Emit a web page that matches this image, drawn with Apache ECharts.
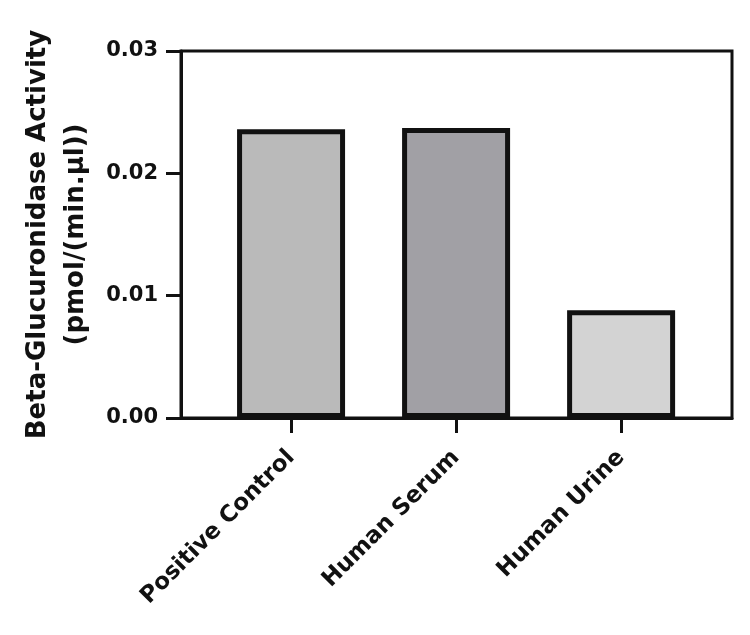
<!DOCTYPE html>
<html>
<head>
<meta charset="utf-8">
<script src="https://cdn.jsdelivr.net/npm/echarts@6/dist/echarts.min.js"></script>
<style>
html,body{margin:0;padding:0;background:#fff;}
#chart{width:750px;height:635px;}
</style>
</head>
<body>
<div id="chart"></div>
<script>
const categories = ['Positive Control', 'Human Serum', 'Human Urine'];
const activityValues = [0.0236, 0.0237, 0.0088];
const barColors = ['#bababa', '#a1a0a5', '#d3d3d3'];
const yTicks = [0, 0.01, 0.02, 0.03];
const yTitle = 'Beta-Glucuronidase Activity\n(pmol/(min.µl))';

const FONT = 'DejaVu Sans';
const chart = echarts.init(document.getElementById('chart'), null, {renderer: 'canvas'});
const positions = categories.map((c, i) => i);

chart.setOption({
  animation: false,
  backgroundColor: '#ffffff',
  grid: {
    left: 181, right: 18, top: 51, bottom: 217,
    show: true, borderColor: '#111', borderWidth: 3, backgroundColor: 'transparent'
  },
  xAxis: {
    type: 'value',
    min: -0.667, max: 2.672,
    splitLine: {show: false},
    axisLine: {show: true, onZero: false, lineStyle: {color: '#111', width: 3}},
    axisTick: {show: true, length: 15, lineStyle: {color: '#111', width: 3}, customValues: positions},
    axisLabel: {
      customValues: positions,
      rotate: 45, margin: 36,
      fontFamily: FONT, fontWeight: 'bold', fontSize: 23, color: '#111',
      formatter: v => categories[Math.round(v)]
    }
  },
  yAxis: {
    type: 'value',
    min: yTicks[0], max: yTicks[yTicks.length - 1], interval: 0.01,
    splitLine: {show: false},
    axisLine: {show: true, onZero: false, lineStyle: {color: '#111', width: 3}},
    axisTick: {show: true, length: 15, lineStyle: {color: '#111', width: 3}},
    axisLabel: {
      margin: 23, fontFamily: FONT, fontWeight: 'bold', fontSize: 21, color: '#111',
      formatter: v => v.toFixed(2)
    },
    name: yTitle,
    nameLocation: 'middle',
    nameRotate: 90,
    nameGap: 78,
    nameTextStyle: {fontFamily: FONT, fontWeight: 'bold', fontSize: 26, color: '#111', lineHeight: 38}
  },
  series: [{
    type: 'bar',
    barWidth: 108,
    data: activityValues.map((v, i) => ({
      value: [positions[i], v],
      itemStyle: {color: barColors[i], borderColor: '#111', borderWidth: 5}
    }))
  }]
});
</script>
</body>
</html>
